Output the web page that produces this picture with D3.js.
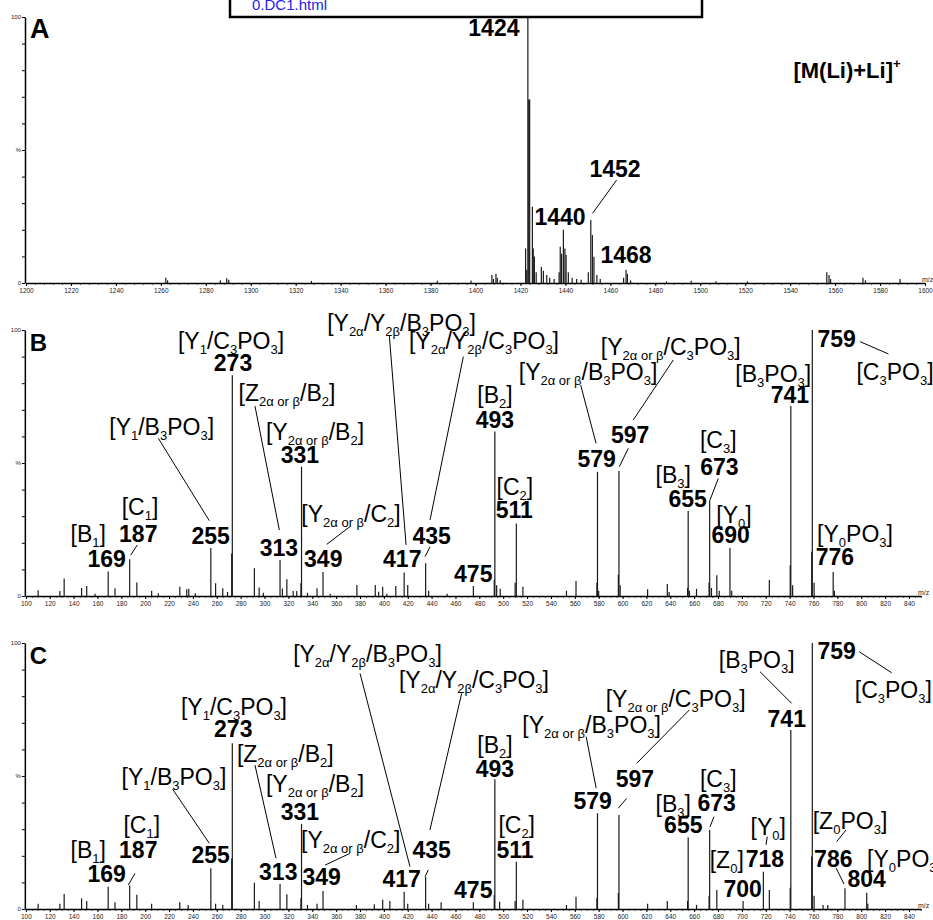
<!DOCTYPE html>
<html>
<head>
<meta charset="utf-8">
<script src="https://cdn.jsdelivr.net/npm/d3@7"></script>
<style>
  body { margin: 0; background: #fff; }
  svg { display: block; }
</style>
</head>
<body>
<div id="chart"></div>
<script>
// [m/z, relative intensity %]
const peaksA = [
  [1262.2, 2.0], [1263, 1.0], [1286.5, 1.0], [1289.3, 1.8], [1290.2, 1.2], [1327, 0.8], [1383, 0.8], [1398, 0.9],
  [1407.3, 3.0], [1408, 1.5], [1409.1, 3.5], [1409.7, 2.0], [1411, 1.0],
  [1422.3, 13], [1422.8, 5], [1423.3, 100], [1423.7, 69], [1424.1, 69], [1425.3, 28.7], [1425.7, 13], [1426.2, 10], [1427, 4],
  [1429.3, 6], [1430.2, 4.6], [1431.7, 3], [1433, 2], [1435, 1.5],
  [1437.2, 4], [1437.7, 13.6], [1438.3, 11], [1439.1, 20], [1439.8, 13], [1440.3, 10.5], [1441.3, 4], [1443, 2], [1445, 1.5], [1447, 1.2],
  [1450.2, 4], [1451.3, 23.7], [1452, 18], [1452.7, 9.9], [1454, 3], [1455.5, 1.5],
  [1465.9, 2], [1467, 5], [1467.6, 3.4], [1469, 1],
  [1485, 0.6], [1496, 0.8], [1507, 0.7], [1521, 0.6], [1556.3, 4], [1557.3, 3], [1558, 1.5], [1572.4, 2], [1573.5, 1], [1588.9, 1.5]
];

const peaksB = [
  [110.3, 2.2], [128.5, 1.9], [132.1, 6.6], [146.7, 3.0], [151, 3.8], [158, 0.8], [169, 9.2], [174.7, 2.9],
  [187, 13.8], [193, 5.1], [205.4, 2.0], [211, 1], [229, 3.5], [234.8, 2.5], [236.5, 2.7], [242, 1],
  [255, 18], [259, 4.8], [265, 2.9], [269, 1.5], [272.5, 16], [273, 83], [291.5, 10.4], [295.5, 3.2], [299, 1.2],
  [313, 13.5], [315, 2.8], [318.7, 6.3], [324, 1.9], [327, 1.9], [330.5, 4.8], [331, 48.6], [336, 1.2], [344, 2.9],
  [349, 9], [355, 0.8], [377.4, 4.1], [392.8, 4.1], [395.6, 1.6], [399, 3.5], [402.5, 0.8], [410, 3.8],
  [417, 8.8], [420, 4.1], [435, 12.3], [437.5, 2.0], [453, 0.8], [475, 3.8],
  [492.5, 6], [493, 61.8], [494.5, 4], [497.5, 2.7], [510, 5], [511, 27.3], [516.5, 3.5], [553, 2], [561, 5.6],
  [578.5, 5], [579, 46.7], [580, 2], [596.5, 8], [597, 47], [598, 4], [621, 2.5], [637.5, 4.5], [639, 1.5],
  [654.5, 3], [655, 32], [656, 2], [662, 2.7], [672.5, 5], [673, 36], [674.5, 3], [679, 7.8], [681, 2],
  [690, 18], [691.5, 2], [723, 6], [740.5, 11.6], [741, 71.4], [742.5, 4],
  [758.5, 16.6], [759, 100], [760.5, 5], [776.5, 9], [777.5, 2]
];

const peaksC = [
  [110.3, 2.0], [128.5, 2], [132.1, 5.6], [146.7, 4], [151, 3], [169, 8.4], [174.7, 2.5], [187, 8.8], [193, 5.4],
  [205.4, 2], [229, 2.5], [236, 1.5], [255, 15.3], [259, 2], [265, 1.5], [272.5, 19], [273, 62.3],
  [291.5, 9.9], [295.5, 3.0], [313, 9.4], [318.7, 5.5], [330.5, 4], [331, 32], [336, 1.5], [344, 2], [349, 6.8],
  [377, 1.5], [392, 1.8], [399, 3.5], [405, 3], [417, 6.5], [420, 2], [435, 12], [437.5, 2], [448, 2.5], [475, 2.5],
  [492.5, 5.3], [493, 48.8], [497, 2.7], [510, 3], [511, 17.8], [516.5, 3.5], [553, 1.5], [561, 4.6],
  [578.5, 4], [579, 36], [596.5, 6], [597, 35.3], [621, 2], [637.5, 3], [654.5, 3], [655, 27], [662, 1.5],
  [672.5, 5], [673, 29.7], [679, 7.1], [701, 3], [718, 14], [723, 7.1], [740.5, 8], [741, 67.3],
  [758.5, 19.7], [759, 100], [760.5, 5], [768, 1.5], [772, 1.5], [786.4, 7.8], [804.6, 6.1], [805.5, 2]
];

// [text, m/z, %]  (_{..} subscript, ^{..} superscript)
const labelsA = [
  ['1424', 1408.2, 92.9], ['1452', 1462.1, 40.0], ['1440', 1437.6, 21.8], ['1468', 1467.0, 7.4]
];
const ionLabel = ['[M(Li)+Li]^{+}', 1565.3, 77];

const labelsB = [
  ['[Y_{1}/C_{3}PO_{3}]', 271.9, 92.7], ['273', 273.6, 84.6],
  ['[Z_{2α or β}/B_{2}]', 318.8, 73.3], ['[Y_{1}/B_{3}PO_{3}]', 213.8, 60.5],
  ['[Y_{2α or β}/B_{2}]', 342.3, 58.6], ['331', 329.7, 49.9],
  ['[C_{1}]', 195.7, 30.5], ['187', 194.2, 20.4], ['[B_{1}]', 152.3, 20.4], ['169', 167.7, 11.0],
  ['255', 254.9, 19.4], ['313', 312.1, 15.0], ['[Y_{2α or β}/C_{2}]', 372.5, 27.9], ['349', 349.2, 11.0],
  ['435', 440.1, 19.4], ['417', 415.4, 11.0],
  ['[Y_{2α}/Y_{2β}/B_{3}PO_{3}]', 414.8, 99.7], ['[Y_{2α}/Y_{2β}/C_{3}PO_{3}]', 483.9, 92.9],
  ['[Y_{2α or β}/C_{3}PO_{3}]', 640.4, 90.6], ['[Y_{2α or β}/B_{3}PO_{3}]', 571.1, 81.2],
  ['[B_{2}]', 493.1, 72.4], ['493', 493.1, 63.0], ['597', 606.3, 57.4], ['579', 578.3, 48.6],
  ['[C_{2}]', 509.8, 38.0], ['511', 509.3, 29.2], ['475', 474.9, 5.4],
  ['[C_{3}]', 680.2, 55.5], ['673', 681.1, 45.5], ['[B_{3}]', 642.5, 42.4], ['655', 654.6, 33.6],
  ['[Y_{0}]', 693.4, 27.3], ['690', 690.6, 19.8], ['[B_{3}PO_{3}]', 726.3, 80.6], ['741', 740.3, 72.4],
  ['759', 779.4, 93.7], ['[C_{3}PO_{3}]', 828.3, 81.2], ['[Y_{0}PO_{3}]', 794.8, 20.4], ['776', 778.0, 11.7]
];

const labelsC = [
  ['[Y_{2α}/Y_{2β}/B_{3}PO_{3}]', 386.3, 93.0], ['[Y_{2α}/Y_{2β}/C_{3}PO_{3}]', 475.5, 83.0],
  ['[Y_{1}/C_{3}PO_{3}]', 274.4, 72.9], ['273', 273.8, 64.8], ['[Z_{2α or β}/B_{2}]', 317.4, 55.4],
  ['[Y_{1}/B_{3}PO_{3}]', 224.1, 46.6], ['[Y_{2α or β}/B_{2}]', 342.3, 44.1], ['331', 329.7, 33.5],
  ['[C_{1}]', 197.1, 28.5], ['[B_{1}]', 152.3, 19.1], ['187', 194.2, 19.1], ['255', 254.9, 17.2],
  ['[Y_{2α or β}/C_{2}]', 372.2, 22.8], ['435', 440.1, 19.1], ['169', 167.7, 10.3], ['313', 311.5, 10.9],
  ['349', 347.9, 9.0], ['417', 414.9, 8.4], ['475', 474.9, 4.0],
  ['[B_{2}]', 493.1, 58.5], ['493', 493.1, 49.7], ['[Y_{2α or β}/B_{3}PO_{3}]', 574.1, 66.1],
  ['[Y_{2α or β}/C_{3}PO_{3}]', 644.5, 76.1], ['597', 610.4, 46.0], ['579', 575.0, 37.5],
  ['[C_{2}]', 511.3, 28.5], ['511', 509.9, 19.1], ['[C_{3}]', 680.2, 46.0], ['673', 678.9, 37.0],
  ['[B_{3}]', 642.5, 36.6], ['655', 650.9, 28.5], ['[Y_{0}]', 722.1, 27.8], ['718', 719.3, 15.9],
  ['[Z_{0}]', 687.3, 15.3], ['700', 700.7, 4.6], ['[B_{3}PO_{3}]', 712.4, 90.5], ['741', 737.6, 68.5],
  ['759', 779.4, 93.9], ['[C_{3}PO_{3}]', 826.9, 79.2], ['[Z_{0}PO_{3}]', 790.6, 30.0], ['786', 776.6, 15.9],
  ['[Y_{0}PO_{3}]', 836.7, 15.9], ['804', 804.6, 8.2]
];

// leader lines [m/z1, %1, m/z2, %2]
const leadersA = [[1462.8, 38.7, 1452.1, 26.2]];
const leadersB = [
  [211.0, 59.3, 253.7, 28.3], [292.0, 71.4, 312.4, 24.8], [187.9, 15.4, 193.4, 19.2], [352.1, 19.4, 371.6, 26.1],
  [404.6, 97.7, 418.6, 19.2], [466.6, 90.0, 438.7, 28.6], [434.5, 14.8, 438.7, 18.5], [564.9, 79.3, 577.8, 57.4],
  [642.5, 88.7, 609.0, 66.2], [597.3, 48.6, 604.8, 55.5], [673.3, 36.1, 680.2, 44.2], [799.1, 95.6, 822.8, 91.0]
];
const leadersC = [
  [292.0, 54.1, 309.6, 19.1], [223.1, 45.0, 253.7, 24.7], [380.0, 88.6, 421.9, 15.9], [465.2, 81.1, 438.6, 29.7],
  [185.8, 9.0, 191.5, 13.4], [350.7, 16.5, 371.6, 20.9], [434.5, 12.1, 437.2, 14.7], [569.5, 64.8, 577.9, 45.4],
  [655.9, 74.8, 611.9, 54.8], [596.4, 37.9, 603.5, 41.6], [673.3, 30.9, 676.6, 34.7], [720.2, 24.1, 721.3, 27.2],
  [715.2, 89.2, 741.7, 77.3], [798.4, 96.7, 825.5, 88.8], [779.4, 25.3, 787.2, 29.7], [778.9, 15.4, 785.6, 9.4]
];

const ticksA = [1200, 1220, 1240, 1260, 1280, 1300, 1320, 1340, 1360, 1380, 1400, 1420, 1440, 1460, 1480,
  1500, 1520, 1540, 1560, 1580, 1600];
const ticksBC = [100, 120, 140, 160, 180, 200, 220, 240, 260, 280, 300, 320, 340, 360, 380, 400, 420, 440, 460,
  480, 500, 520, 540, 560, 580, 600, 620, 640, 660, 680, 700, 720, 740, 760, 780, 800, 820, 840];
const yTicks = [0, 10, 20, 30, 40, 50, 60, 70, 80, 90, 100];

const FONT = '"Liberation Sans", Arial, Helvetica, sans-serif';
const width = 933;
const height = 920;

const panels = [
  { letter: 'A', letterSize: 27, peaks: peaksA, labels: labelsA, leaders: leadersA, ticks: ticksA,
    minor: 4, domain: [1200, 1600], x0: 26, x1: 925, top: 17, base: 283 },
  { letter: 'B', letterSize: 24, peaks: peaksB, labels: labelsB, leaders: leadersB, ticks: ticksBC,
    minor: 5, domain: [100, 850], x0: 25.85, x1: 920.9, top: 330, base: 596 },
  { letter: 'C', letterSize: 24, peaks: peaksC, labels: labelsC, leaders: leadersC, ticks: ticksBC,
    minor: 5, domain: [100, 850], x0: 25.85, x1: 920.9, top: 643, base: 909 },
];

const svg = d3.select('#chart')
  .append('svg')
  .attr('width', width)
  .attr('height', height)
  .style('font-family', FONT);

svg.append('rect').attr('width', width).attr('height', height).attr('fill', '#fff');

function richText(sel, str, subSize) {
  const re = /([_^])\{([^}]*)\}/g;
  let last = 0;
  let cur = 0;
  let m;
  const put = (txt, off, small) => {
    if (!txt) return;
    const t = sel.append('tspan').attr('dy', off - cur).text(txt);
    if (small) t.style('font-size', `${subSize}px`);
    cur = off;
  };
  while ((m = re.exec(str))) {
    put(str.slice(last, m.index), 0, false);
    put(m[2], m[1] === '_' ? 5 : -10, true);
    last = re.lastIndex;
  }
  put(str.slice(last), 0, false);
}

function drawPanel(p) {
  const g = svg.append('g');
  const x = d3.scaleLinear().domain(p.domain).range([p.x0, p.x1]);
  const y = d3.scaleLinear().domain([0, 100]).range([p.base, p.top]);

  // minor ticks
  g.append('g')
    .attr('transform', `translate(0,${p.base})`)
    .call(d3.axisBottom(x).tickValues(d3.range(p.domain[0], p.domain[1] + 0.1, p.minor))
      .tickSize(1.8).tickFormat(''))
    .call((a) => a.select('.domain').remove())
    .call((a) => a.selectAll('line').attr('stroke', '#000').attr('stroke-width', 0.8));

  const xAxis = g.append('g')
    .attr('transform', `translate(0,${p.base})`)
    .call(d3.axisBottom(x).tickValues(p.ticks).tickSize(3).tickSizeOuter(0).tickPadding(2)
      .tickFormat(d3.format('d')));
  xAxis.select('.domain').attr('stroke', '#000').attr('stroke-width', 1.4);
  xAxis.selectAll('text').style('font-size', '6.5px').attr('fill', '#222').style('font-family', FONT);

  g.append('text')
    .attr('x', p.x1 - 3)
    .attr('y', p.base - 1)
    .style('font-size', '7px')
    .attr('fill', '#222')
    .text('m/z');

  const yAxis = g.append('g')
    .attr('transform', `translate(${p.x0 - 1},0)`)
    .call(d3.axisLeft(y).tickValues(yTicks).tickSize(3).tickSizeOuter(0).tickPadding(1)
      .tickFormat((d) => (d === 100 ? '100' : d === 50 ? '%' : d === 0 ? '0' : '')));
  yAxis.select('.domain').attr('stroke', '#000').attr('stroke-width', 1.5);
  yAxis.selectAll('text').style('font-size', '6px').attr('fill', '#222').style('font-family', FONT);

  g.append('g')
    .selectAll('line')
    .data(p.peaks)
    .join('line')
    .attr('x1', (d) => x(d[0]))
    .attr('x2', (d) => x(d[0]))
    .attr('y1', p.base)
    .attr('y2', (d) => y(d[1]))
    .attr('stroke', '#1a1a1a')
    .attr('stroke-width', 1.2);

  g.append('g')
    .selectAll('line')
    .data(p.leaders)
    .join('line')
    .attr('x1', (d) => x(d[0]))
    .attr('y1', (d) => y(d[1]))
    .attr('x2', (d) => x(d[2]))
    .attr('y2', (d) => y(d[3]))
    .attr('stroke', '#000')
    .attr('stroke-width', 1);

  const lab = g.append('g')
    .selectAll('text')
    .data(p.labels)
    .join('text')
    .attr('x', (d) => x(d[1]))
    .attr('y', (d) => y(d[2]))
    .attr('text-anchor', 'middle')
    .attr('fill', '#000')
    .style('font-size', '23px')
    .style('font-weight', (d) => (/^\d+$/.test(d[0]) ? 'bold' : 'normal'));
  lab.each(function (d) { richText(d3.select(this), d[0], 13); });

  g.append('text')
    .attr('x', p.x0 + 4)
    .attr('y', p.top + 21)
    .style('font-size', `${p.letterSize}px`)
    .style('font-weight', 'bold')
    .text(p.letter);

  return { x, y, g };
}

const panelA = drawPanel(panels[0]);
drawPanel(panels[1]);
drawPanel(panels[2]);

const ion = panelA.g.append('text')
  .attr('x', panelA.x(ionLabel[1]))
  .attr('y', panelA.y(ionLabel[2]))
  .attr('text-anchor', 'middle')
  .style('font-size', '22px')
  .style('font-weight', 'bold');
richText(ion, ionLabel[0], 13);

// cropped link box at top
svg.append('rect')
  .attr('x', 230).attr('y', -4).attr('width', 472).attr('height', 21)
  .attr('fill', '#fff').attr('stroke', '#000').attr('stroke-width', 2.5);
svg.append('text')
  .attr('x', 252).attr('y', 10)
  .style('font-size', '15px')
  .attr('fill', '#2222ee')
  .text('0.DC1.html');
</script>
</body>
</html>
